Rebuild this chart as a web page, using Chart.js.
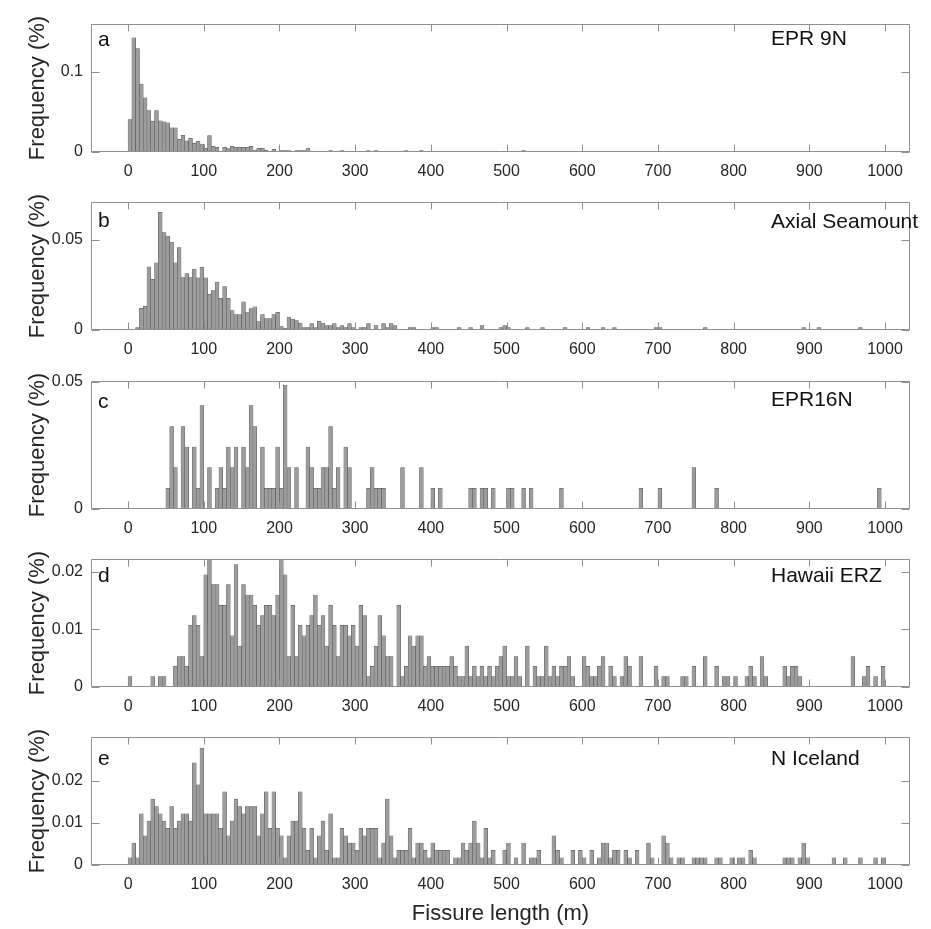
<!DOCTYPE html>
<html>
<head>
<meta charset="utf-8">
<script src="https://cdn.jsdelivr.net/npm/chart.js@4.4.0/dist/chart.umd.min.js"></script>
<style>
  body { margin: 0; background: #fff; }
  #wrap { position: relative; width: 931px; height: 929px; overflow: hidden; }
  #wrap canvas { position: absolute; left: 0; }
</style>
</head>
<body>
<div id="wrap"></div>
<script>
// histogram bins: 5 m wide, starting at 0 m (one row = 100 m)
const binWidth = 5;
const xTicks = [0, 100, 200, 300, 400, 500, 600, 700, 800, 900, 1000];

const siteNames = ['EPR 9N', 'Axial Seamount', 'EPR16N', 'Hawaii ERZ', 'N Iceland'];
const panelLetters = ['a', 'b', 'c', 'd', 'e'];

const yTicksA = [0, 0.1];
const yTicksB = [0, 0.05];
const yTicksC = [0, 0.05];
const yTicksD = [0, 0.01, 0.02];
const yTicksE = [0, 0.01, 0.02];

const freqEPR9N = [
  0.0404, 0.1425, 0.129, 0.0846, 0.0675, 0.0517, 0.0383, 0.0517, 0.0388, 0.0375, 0.0363, 0.030, 0.030, 0.0158, 0.0208, 0.0138, 0.0171, 0.0108, 0.0133, 0.010,
  0.0046, 0.0204, 0.0071, 0.0058, 0.0013, 0.0058, 0.0042, 0.0071, 0.0058, 0.0058, 0.0058, 0.0058, 0.0071, 0.0025, 0.0046, 0.0046, 0.0021, 0, 0.0033, 0,
  0.0017, 0.0017, 0.0017, 0, 0.0017, 0.0017, 0.0017, 0.005, 0, 0, 0, 0, 0, 0.0017, 0, 0, 0.0017, 0, 0, 0,
  0, 0, 0, 0.0017, 0, 0.0017, 0, 0, 0, 0, 0, 0, 0, 0.0017, 0, 0, 0, 0.0017, 0, 0,
  0, 0, 0, 0, 0, 0, 0, 0, 0, 0, 0, 0, 0, 0, 0, 0, 0, 0, 0, 0,
  0, 0, 0, 0, 0.0017, 0, 0, 0, 0, 0, 0, 0, 0, 0, 0, 0, 0, 0, 0, 0,
  0, 0, 0, 0, 0, 0, 0, 0, 0, 0, 0, 0, 0, 0, 0, 0, 0, 0, 0, 0,
  0, 0, 0, 0, 0, 0, 0, 0, 0, 0, 0, 0, 0, 0, 0, 0, 0, 0, 0, 0,
  0, 0, 0, 0, 0, 0, 0, 0, 0, 0, 0, 0, 0, 0, 0, 0, 0, 0, 0, 0,
  0, 0, 0, 0, 0, 0, 0, 0, 0, 0, 0, 0, 0, 0, 0, 0, 0, 0, 0, 0
];

const freqAxial = [
  0, 0, 0.0013, 0.012, 0.0131, 0.035, 0.028, 0.0372, 0.0652, 0.0539, 0.052, 0.0487, 0.0372, 0.0457, 0.0291, 0.0313, 0.0291, 0.0337, 0.0289, 0.0348,
  0.0289, 0.0198, 0.0219, 0.0265, 0.0176, 0.0241, 0.0176, 0.0107, 0.0085, 0.0085, 0.0156, 0.0096, 0.0119, 0.0128, 0.0046, 0.0085, 0.0063, 0.0063, 0.0085, 0.0098,
  0.0022, 0.0011, 0.0072, 0.0061, 0.0052, 0.0039, 0.0013, 0.0013, 0.0035, 0.0013, 0.0048, 0.0039, 0.0024, 0.0024, 0.0035, 0.0013, 0.0024, 0.0013, 0.0035, 0.0013,
  0, 0.0013, 0.0013, 0.0035, 0, 0.0024, 0, 0.0035, 0.0013, 0.0035, 0.0024, 0, 0, 0, 0.0013, 0.0013, 0, 0, 0, 0,
  0.0013, 0.0013, 0, 0, 0, 0, 0, 0.0013, 0, 0, 0.0013, 0, 0, 0.0024, 0, 0, 0, 0, 0.0013, 0.0024,
  0.0013, 0, 0, 0, 0, 0.0013, 0, 0, 0, 0.0013, 0, 0, 0, 0, 0, 0.0013, 0, 0, 0, 0,
  0, 0.0013, 0, 0, 0, 0.0013, 0, 0, 0.0013, 0, 0, 0, 0, 0, 0, 0, 0, 0, 0, 0.0013,
  0.0013, 0, 0, 0, 0, 0, 0, 0, 0, 0, 0, 0, 0.0013, 0, 0, 0, 0, 0, 0, 0,
  0, 0, 0, 0, 0, 0, 0, 0, 0, 0, 0, 0, 0, 0, 0, 0, 0, 0, 0.0013, 0,
  0, 0, 0.0013, 0, 0, 0, 0, 0, 0, 0, 0, 0, 0, 0.0013, 0, 0, 0, 0, 0, 0
];

const freqEPR16N = [
  0, 0, 0, 0, 0, 0, 0, 0, 0, 0, 0.0081, 0.0325, 0.0163, 0, 0.0325, 0.0244, 0, 0.0244, 0.0081, 0.0407,
  0, 0.0163, 0, 0.0081, 0.0163, 0.0081, 0.0244, 0.0163, 0.0244, 0, 0.0244, 0.0163, 0.0407, 0.0325, 0, 0.0244, 0.0081, 0.0081, 0.0081, 0.0244,
  0.0081, 0.0488, 0.0163, 0, 0.0163, 0, 0, 0.0244, 0.0163, 0.0081, 0.0081, 0.0163, 0.0163, 0.0325, 0.0081, 0.0163, 0, 0.0244, 0.0163, 0,
  0, 0, 0, 0.0081, 0.0163, 0.0081, 0.0081, 0.0081, 0, 0, 0, 0, 0.0163, 0, 0, 0, 0, 0.0163, 0, 0,
  0.0081, 0, 0.0081, 0, 0, 0, 0, 0, 0, 0, 0.0081, 0.0081, 0, 0.0081, 0.0081, 0, 0.0081, 0, 0, 0,
  0.0081, 0.0081, 0, 0, 0.0081, 0, 0.0081, 0, 0, 0, 0, 0, 0, 0, 0.0081, 0, 0, 0, 0, 0,
  0, 0, 0, 0, 0, 0, 0, 0, 0, 0, 0, 0, 0, 0, 0, 0.0081, 0, 0, 0, 0,
  0.0081, 0, 0, 0, 0, 0, 0, 0, 0, 0.0163, 0, 0, 0, 0, 0, 0.0081, 0, 0, 0, 0,
  0, 0, 0, 0, 0, 0, 0, 0, 0, 0, 0, 0, 0, 0, 0, 0, 0, 0, 0, 0,
  0, 0, 0, 0, 0, 0, 0, 0, 0, 0, 0, 0, 0, 0, 0, 0, 0, 0, 0.0081, 0
];

const freqHawaii = [
  0.0018, 0, 0, 0, 0, 0, 0.0018, 0, 0.0018, 0.0018, 0, 0, 0.0036, 0.0053, 0.0053, 0.0036, 0.0107, 0.0124, 0.0107, 0.0053,
  0.0195, 0.0231, 0.0178, 0.0178, 0.0142, 0.0142, 0.0178, 0.0089, 0.0213, 0.0071, 0.0178, 0.016, 0.016, 0.0142, 0.0107, 0.0124, 0.0142, 0.0142, 0.0124, 0.016,
  0.0231, 0.0195, 0.0053, 0.0142, 0.0053, 0.0107, 0.0089, 0.0107, 0.0124, 0.016, 0.0107, 0.0124, 0.0071, 0.0142, 0.0107, 0.0053, 0.0107, 0.0107, 0.0089, 0.0107,
  0.0071, 0.0142, 0.0124, 0.0018, 0.0036, 0.0071, 0.0124, 0.0089, 0.0053, 0.0053, 0, 0.0142, 0.0018, 0.0036, 0.0089, 0.0071, 0.0089, 0.0089, 0.0036, 0.0053,
  0.0036, 0.0036, 0.0036, 0.0036, 0.0036, 0.0053, 0.0036, 0.0018, 0.0018, 0.0071, 0.0018, 0.0036, 0.0018, 0.0036, 0.0018, 0.0036, 0.0018, 0.0036, 0.0053, 0.0071,
  0.0018, 0.0018, 0.0053, 0.0018, 0, 0.0071, 0, 0.0036, 0.0018, 0.0018, 0.0071, 0.0018, 0.0036, 0.0018, 0.0036, 0.0036, 0.0053, 0.0018, 0, 0,
  0.0053, 0.0036, 0.0018, 0.0018, 0.0036, 0.0053, 0, 0.0036, 0.0018, 0, 0.0018, 0.0053, 0.0036, 0, 0, 0.0053, 0, 0, 0, 0.0036,
  0, 0.0018, 0.0018, 0, 0, 0, 0.0018, 0.0018, 0, 0.0036, 0, 0, 0.0053, 0, 0, 0.0036, 0, 0.0018, 0.0018, 0,
  0.0018, 0, 0, 0.0018, 0.0036, 0.0018, 0, 0.0053, 0.0018, 0, 0, 0, 0, 0.0036, 0.0018, 0.0036, 0.0036, 0.0018, 0, 0,
  0, 0, 0, 0, 0, 0, 0, 0, 0, 0, 0, 0.0053, 0, 0, 0.0018, 0.0036, 0, 0.0018, 0, 0.0036
];

const freqIceland = [
  0.0017, 0.0052, 0.0017, 0.0121, 0.0069, 0.0104, 0.0156, 0.0138, 0.0121, 0.0104, 0.0087, 0.0138, 0.0087, 0.0104, 0.0121, 0.0121, 0.0104, 0.0242, 0.019, 0.0277,
  0.0121, 0.0121, 0.0121, 0.0121, 0.0087, 0.0173, 0.0069, 0.0104, 0.0156, 0.0138, 0.0121, 0.0138, 0.0138, 0.0138, 0.0069, 0.0121, 0.0173, 0.0087, 0.0173, 0.0087,
  0.0069, 0.0017, 0.0069, 0.0104, 0.0104, 0.0173, 0.0087, 0.0035, 0.0087, 0.0017, 0.0069, 0.0104, 0.0035, 0.0121, 0.0017, 0.0017, 0.0087, 0.0069, 0.0052, 0.0052,
  0.0035, 0.0087, 0.0069, 0.0087, 0.0087, 0.0087, 0.0017, 0.0052, 0.0156, 0.0069, 0.0017, 0.0035, 0.0035, 0.0035, 0.0087, 0.0017, 0.0052, 0.0052, 0.0035, 0.0017,
  0.0052, 0.0035, 0.0035, 0.0035, 0.0035, 0, 0.0017, 0.0017, 0.0052, 0.0035, 0.0052, 0.0104, 0.0052, 0.0017, 0.0087, 0.0017, 0.0035, 0, 0, 0.0035,
  0.0052, 0, 0.0017, 0, 0.0052, 0, 0.0017, 0.0017, 0.0035, 0, 0, 0, 0.0069, 0.0035, 0.0017, 0, 0, 0.0035, 0, 0.0035,
  0.0017, 0, 0.0035, 0, 0.0017, 0.0052, 0.0052, 0.0017, 0.0035, 0.0035, 0, 0.0035, 0.0017, 0, 0.0035, 0, 0, 0.0052, 0.0017, 0,
  0, 0.0069, 0.0052, 0.0017, 0, 0.0017, 0.0017, 0, 0, 0.0017, 0.0017, 0.0017, 0.0017, 0, 0, 0.0017, 0.0017, 0, 0, 0.0017,
  0, 0.0017, 0.0017, 0, 0.0035, 0.0017, 0, 0, 0, 0, 0, 0, 0, 0.0017, 0.0017, 0.0017, 0, 0.0017, 0.0052, 0.0017,
  0, 0, 0, 0, 0, 0, 0.0017, 0, 0, 0.0017, 0, 0, 0, 0.0017, 0, 0, 0, 0.0017, 0, 0.0017
];

const FONT = "'Liberation Sans', Arial, Helvetica, sans-serif";
Chart.defaults.font.family = FONT;
Chart.defaults.color = '#262626';

// page geometry of the five axes boxes
const plotTops = [24, 202, 381, 559, 737];
const plotH = 128;
const plotLeft = 91, plotRight = 910;
const pad = 12;

const panels = [
  { values: freqEPR9N,  yTicks: yTicksA, yMax: 0.1596, letterDy: 16, nameDy: 15 },
  { values: freqAxial,  yTicks: yTicksB, yMax: 0.0709, letterDy: 19, nameDy: 20 },
  { values: freqEPR16N, yTicks: yTicksC, yMax: 0.0504, letterDy: 21, nameDy: 19 },
  { values: freqHawaii, yTicks: yTicksD, yMax: 0.02225, letterDy: 17, nameDy: 17 },
  { values: freqIceland, yTicks: yTicksE, yMax: 0.0303, letterDy: 22, nameDy: 22 }
];

// MATLAB style box with inward ticks on all sides, plus panel letter and site name
const boxPlugin = {
  id: 'mbox',
  afterDatasetsDraw(chart, args, opts) {
    const ctx = chart.ctx;
    const a = chart.chartArea;
    const xs = chart.scales.x, ys = chart.scales.y;
    const L = Math.round(a.left) + 0.5, R = Math.round(a.right) - 0.5;
    const T = Math.round(a.top) + 0.5, B = Math.round(a.bottom) - 0.5;
    ctx.save();
    ctx.strokeStyle = '#8f8f8f';
    ctx.lineWidth = 1;
    ctx.beginPath();
    xTicks.forEach(v => {
      const px = Math.round(xs.getPixelForValue(v)) + 0.5;
      ctx.moveTo(px, B); ctx.lineTo(px, B - 7);
      ctx.moveTo(px, T); ctx.lineTo(px, T + 7);
    });
    opts.yTicks.forEach(v => {
      const py = Math.round(ys.getPixelForValue(v)) + 0.5;
      ctx.moveTo(L, py); ctx.lineTo(L + 8, py);
      ctx.moveTo(R, py); ctx.lineTo(R - 8, py);
    });
    ctx.moveTo(L, T); ctx.lineTo(R, T); ctx.lineTo(R, B); ctx.lineTo(L, B); ctx.closePath();
    ctx.stroke();
    ctx.fillStyle = '#111';
    ctx.font = '21px ' + FONT;
    ctx.textBaseline = 'middle';
    ctx.textAlign = 'left';
    ctx.fillText(opts.letter, 98, a.top + opts.letterDy);
    ctx.fillText(opts.name, 771, a.top + opts.nameDy);
    ctx.restore();
  }
};

const wrap = document.getElementById('wrap');

panels.forEach((p, i) => {
  const last = i === panels.length - 1;
  const canvasTop = plotTops[i] - pad;
  const canvasH = last ? 929 - canvasTop : pad + plotH + 34;
  const axisH = canvasH - pad - plotH;

  const canvas = document.createElement('canvas');
  canvas.width = 931;
  canvas.height = canvasH;
  canvas.style.top = canvasTop + 'px';
  canvas.style.width = '931px';
  canvas.style.height = canvasH + 'px';
  wrap.appendChild(canvas);

  const points = p.values.map((v, k) => ({ x: k * binWidth + binWidth / 2, y: v }));

  new Chart(canvas, {
    type: 'bar',
    data: {
      datasets: [{
        data: points,
        backgroundColor: '#9d9d9d',
        borderColor: '#505050',
        borderWidth: 0.5,
        categoryPercentage: 1,
        barPercentage: 1,
        clip: 0
      }]
    },
    options: {
      responsive: false,
      animation: false,
      devicePixelRatio: 1,
      layout: { padding: { top: pad, left: 0, right: 931 - plotRight, bottom: 0 } },
      plugins: {
        legend: { display: false },
        tooltip: { enabled: false },
        mbox: { yTicks: p.yTicks, letter: panelLetters[i], name: siteNames[i], letterDy: p.letterDy, nameDy: p.nameDy }
      },
      scales: {
        x: {
          type: 'linear',
          offset: false,
          min: -49,
          max: 1033,
          grid: { display: false },
          border: { display: false },
          afterBuildTicks: s => { s.ticks = xTicks.map(v => ({ value: v })); },
          afterFit: s => { s.height = axisH; },
          ticks: {
            autoSkip: false,
            maxRotation: 0,
            padding: 2,
            color: '#262626',
            font: { size: 16 },
            callback: v => String(v)
          },
          title: {
            display: last,
            text: 'Fissure length (m)',
            color: '#262626',
            font: { size: 22 },
            padding: { top: 4, bottom: 2 }
          }
        },
        y: {
          min: 0,
          max: p.yMax,
          grid: { display: false },
          border: { display: false },
          afterBuildTicks: s => { s.ticks = p.yTicks.map(v => ({ value: v })); },
          afterFit: s => { s.width = plotLeft; },
          ticks: {
            padding: 0,
            color: '#262626',
            font: { size: 16 },
            callback: v => String(v)
          },
          title: {
            display: true,
            text: 'Frequency (%)',
            color: '#262626',
            font: { size: 22 },
            padding: { top: 25, bottom: 0 }
          }
        }
      }
    },
    plugins: [boxPlugin]
  });
});
</script>
</body>
</html>
